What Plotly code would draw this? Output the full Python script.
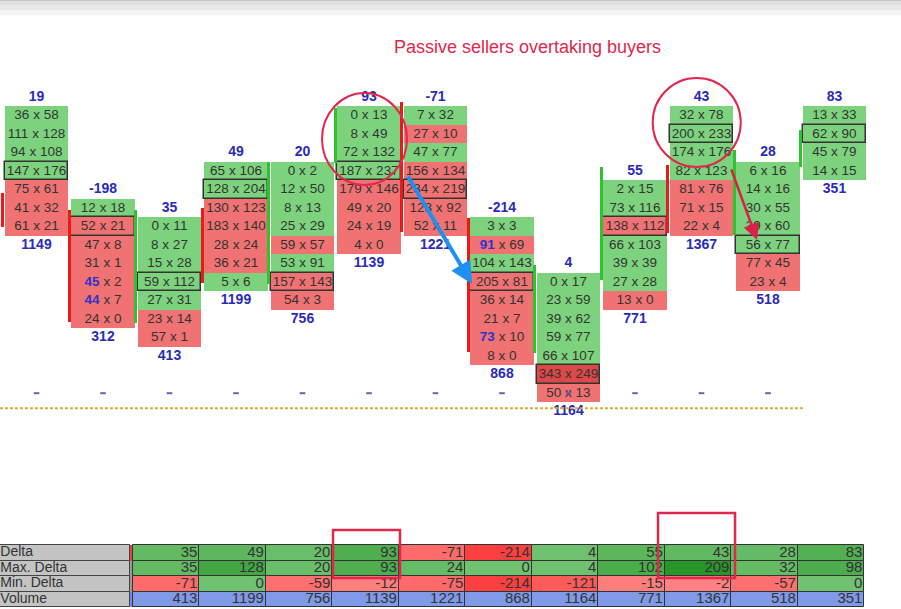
import plotly.graph_objects as go

# footprint columns, left to right
col_delta = [19, -198, 35, 49, 20, 93, -71, -214, 4, 55, 43, 28, 83]
col_volume = [1149, 312, 413, 1199, 756, 1139, 1221, 868, 1164, 771, 1367, 518, 351]
col_top = [20, 15, 14, 17, 17, 20, 20, 14, 11, 16, 20, 17, 20]  # price level of the top cell

bids = [
    [36, 111, 94, 147, 75, 41, 61],
    [12, 52, 47, 31, 45, 44, 24],
    [0, 8, 15, 59, 27, 23, 57],
    [65, 128, 130, 183, 28, 36, 5],
    [0, 12, 8, 25, 59, 53, 157, 54],
    [0, 8, 72, 187, 179, 49, 24, 4],
    [7, 27, 47, 156, 234, 123, 52],
    [3, 91, 104, 205, 36, 21, 73, 8],
    [0, 23, 39, 59, 66, 343, 50],
    [2, 73, 138, 66, 39, 27, 13],
    [32, 200, 174, 82, 81, 71, 22],
    [6, 14, 30, 39, 56, 77, 23],
    [13, 62, 45, 14],
]
asks = [
    [58, 128, 108, 176, 61, 32, 21],
    [18, 21, 8, 1, 2, 7, 0],
    [11, 27, 28, 112, 31, 14, 1],
    [106, 204, 123, 140, 24, 21, 6],
    [2, 50, 13, 29, 57, 91, 143, 3],
    [13, 49, 132, 237, 146, 20, 19, 0],
    [32, 10, 77, 134, 219, 92, 11],
    [3, 69, 143, 81, 14, 7, 10, 0],
    [17, 59, 62, 77, 107, 249, 13],
    [15, 116, 112, 103, 39, 28, 0],
    [78, 233, 176, 123, 76, 15, 4],
    [16, 16, 55, 60, 77, 45, 4],
    [33, 90, 79, 15],
]
# bid numbers printed in blue: (column, row inside column)
bid_imbalance = [(1, 4), (1, 5), (7, 1), (7, 6)]

# thin open/close bar on the left of each column
bar_open = [15.8, 14.9, 8.8, 15.0, 10.9, 17.45, 20.75, 14.45, 7.15, 11.1, 17.35, 13.55, 17.25]
bar_close = [14.0, 8.85, 14.9, 10.95, 17.5, 20.4, 13.7, 7.25, 11.95, 17.25, 13.65, 18.15, 19.25]

dash_level = 5
line_level = 4.18

# summary table under the chart (starts at the third column)
table_rows = ["Delta", "Max. Delta", "Min. Delta", "Volume"]
tbl_delta = [35, 49, 20, 93, -71, -214, 4, 55, 43, 28, 83]
tbl_max = [35, 128, 20, 93, 24, 0, 4, 102, 209, 32, 98]
tbl_min = [-71, 0, -59, -12, -75, -214, -121, -15, -2, -57, 0]
tbl_volume = [413, 1199, 756, 1139, 1221, 868, 1164, 771, 1367, 518, 351]
tbl_first_col = 2

title_text = "Passive sellers overtaking buyers"

GREEN = "#7dd37d"
RED = "#f07272"
DARK_RED = "#dd4848"
BLUE_TXT = "#2b2bb5"
CRIMSON = "#e0284c"
FONT = "Liberation Sans, Arial, sans-serif"
NARROW = "Liberation Sans Narrow, Arial Narrow, Liberation Sans, Arial"

n_cols = len(col_delta)

# ---- footprint cells
cx, cbase, ccol, clw, ctext_x, ctext_y, ctext = [], [], [], [], [], [], []
for i in range(n_cols):
    vols = [b + a for b, a in zip(bids[i], asks[i])]
    poc = vols.index(max(vols))
    for j, (b, a) in enumerate(zip(bids[i], asks[i])):
        p = col_top[i] - j
        cx.append(i)
        cbase.append(p - 0.5)
        if b > a:
            ccol.append(DARK_RED if b + a > 500 else RED)
        else:
            ccol.append(GREEN)
        clw.append(1.5 if j == poc else 0)
        bt = str(b)
        if (i, j) in bid_imbalance:
            bt = "<span style='color:#3232c8'><b>%d</b></span>" % b
        ctext_x.append(i)
        ctext_y.append(p)
        ctext.append("%s x %d" % (bt, a))

fig = go.Figure()

fig.add_trace(go.Bar(
    x=cx, y=[1] * len(cx), base=cbase, width=0.95,
    marker=dict(color=ccol, line=dict(color="#333333", width=clw)),
    hoverinfo="skip",
))

# open/close bars
fig.add_trace(go.Bar(
    x=[i - 0.505 for i in range(n_cols)],
    y=[abs(c - o) for o, c in zip(bar_open, bar_close)],
    base=[min(o, c) for o, c in zip(bar_open, bar_close)],
    width=0.045,
    marker=dict(color=["#2fc42f" if c > o else "#ea1a1a" for o, c in zip(bar_open, bar_close)],
                line=dict(width=0)),
    hoverinfo="skip",
))

fig.add_trace(go.Scatter(
    x=ctext_x, y=ctext_y, mode="text", text=ctext,
    textfont=dict(family=FONT, size=13.5, color="#333333"),
    hoverinfo="skip",
))

# delta on top, volume below
fig.add_trace(go.Scatter(
    x=list(range(n_cols)), y=[t + 1 for t in col_top], mode="text",
    text=["<b>%d</b>" % d for d in col_delta],
    textfont=dict(family=FONT, size=14, color=BLUE_TXT), hoverinfo="skip",
))
fig.add_trace(go.Scatter(
    x=list(range(n_cols)), y=[t - len(b) for t, b in zip(col_top, bids)], mode="text",
    text=["<b>%d</b>" % v for v in col_volume],
    textfont=dict(family=FONT, size=14, color=BLUE_TXT), hoverinfo="skip",
))

# small dashes and the dotted level line
fig.add_trace(go.Scatter(
    x=list(range(n_cols - 1)), y=[dash_level] * (n_cols - 1), mode="markers",
    marker=dict(symbol="line-ew", size=4, line=dict(color="#6464b4", width=2)),
    hoverinfo="skip",
))
fig.add_trace(go.Scatter(
    x=[-0.55, 11.53], y=[line_level, line_level], mode="lines",
    line=dict(color="#d6ad30", width=2, dash="3px,2px"), hoverinfo="skip",
))


# ---- table
def tint(v):
    t = min(abs(v) / 200.0, 1.0)
    if v >= 0:
        lo, hi = (112, 194, 112), (40, 150, 40)
    else:
        lo, hi = (255, 130, 130), (252, 64, 64)
    return "rgb(%d,%d,%d)" % tuple(round(a + (b - a) * t) for a, b in zip(lo, hi))


TBL_TOP = 545
ROW_H = 15.5
tx, tbase, tcol, tlx, tly, tlt = [], [], [], [], [], []
for r, vals in enumerate([tbl_delta, tbl_max, tbl_min, tbl_volume]):
    for k, v in enumerate(vals):
        i = tbl_first_col + k
        tx.append(i - 0.05)
        tbase.append(TBL_TOP + r * ROW_H)
        tcol.append("#7f9ae6" if r == 3 else tint(v))
        tlx.append(i + 0.42)
        tly.append(TBL_TOP + (r + 0.5) * ROW_H)
        tlt.append(str(v))

label_x0, label_x1 = -0.549, 1.406
fig.add_trace(go.Bar(
    x=[(label_x0 + label_x1) / 2] * 4, y=[ROW_H] * 4,
    base=[TBL_TOP + r * ROW_H for r in range(4)], width=label_x1 - label_x0,
    marker=dict(color="#c4c4c4", line=dict(color="#444444", width=1)),
    yaxis="y2", hoverinfo="skip",
))
fig.add_trace(go.Bar(
    x=[1.428] * 4, y=[ROW_H] * 4, base=[TBL_TOP + r * ROW_H for r in range(4)],
    width=0.045, marker=dict(color=["#ee4040", "#9a9a9a", "#9a9a9a", "#6f8ce0"], line=dict(width=0)),
    yaxis="y2", hoverinfo="skip",
))
fig.add_trace(go.Bar(
    x=tx, y=[ROW_H] * len(tx), base=tbase, width=1.0,
    marker=dict(color=tcol, line=dict(color="#333333", width=1)),
    yaxis="y2", hoverinfo="skip",
))
fig.add_trace(go.Scatter(
    x=tlx, y=tly, mode="text", text=tlt, textposition="middle left",
    textfont=dict(family=NARROW, size=15, color="#333333"),
    yaxis="y2", hoverinfo="skip",
))
fig.add_trace(go.Scatter(
    x=[label_x0 + 0.005] * 4, y=[TBL_TOP + (r + 0.5) * ROW_H for r in range(4)],
    mode="text", text=table_rows, textposition="middle right",
    textfont=dict(family=NARROW, size=14, color="#333333"),
    yaxis="y2", hoverinfo="skip",
))

# ---- window strip on top and author's markup
shapes = []
for y0, y1, c in [(0, 1.5, "#c6c6c6"), (1.5, 5, "#e0e0e0"), (5, 10, "#e9e9e9"), (10, 15, "#f4f4f4")]:
    shapes.append(dict(type="rect", xref="paper", yref="y2", x0=0, x1=1, y0=y0, y1=y1,
                       fillcolor=c, line=dict(width=0), layer="above"))
shapes += [
    dict(type="circle", xref="x", yref="y2", x0=4.293, x1=5.571, y0=93, y1=185,
         line=dict(color=CRIMSON, width=2)),
    dict(type="circle", xref="x", yref="y2", x0=9.266, x1=10.59, y0=78, y1=167,
         line=dict(color=CRIMSON, width=2)),
    dict(type="rect", xref="x", yref="y2", x0=4.459, x1=5.466, y0=530, y1=578,
         line=dict(color=CRIMSON, width=2.5)),
    dict(type="rect", xref="x", yref="y2", x0=9.346, x1=10.504, y0=513, y1=578,
         line=dict(color=CRIMSON, width=2.5)),
]

annotations = [
    dict(text=title_text, x=7.376, y=47, xref="x", yref="y2", showarrow=False,
         font=dict(family=FONT, size=18, color=CRIMSON)),
    dict(x=6.55, y=284, xref="x", yref="y2", ax=5.571, ay=175, axref="x", ayref="y2",
         showarrow=True, arrowhead=2, arrowsize=1.1, arrowwidth=4, arrowcolor="#1e90ef", text=""),
    dict(x=10.835, y=240, xref="x", yref="y2", ax=10.44, ay=168, axref="x", ayref="y2",
         showarrow=True, arrowhead=2, arrowsize=1.3, arrowwidth=2.5, arrowcolor="#d8204a", text=""),
]

fig.update_layout(
    width=901, height=609,
    margin=dict(l=0, r=0, t=0, b=0),
    plot_bgcolor="white", paper_bgcolor="white",
    showlegend=False, barmode="overlay", bargap=0,
    xaxis=dict(range=[-0.549, 13.0], visible=False, fixedrange=True),
    yaxis=dict(range=[-6.665, 26.254], visible=False, fixedrange=True),
    yaxis2=dict(range=[609, 0], overlaying="y", visible=False, fixedrange=True),
    shapes=shapes, annotations=annotations,
)

# page body has a default margin; drop it so the figure fills the window
fig.write_html("out.html", config={"displayModeBar": False},
               post_script="document.body.style.margin='0px';")
